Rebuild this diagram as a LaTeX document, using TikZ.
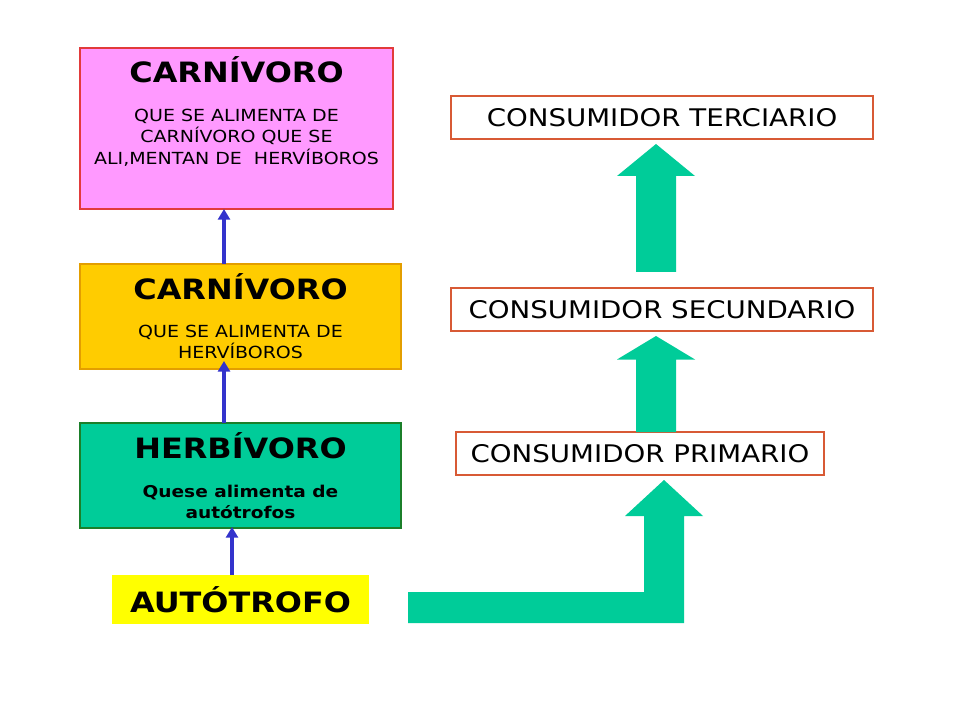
\documentclass[tikz,border=0pt]{standalone}
\usepackage{fontspec}
\setmainfont{DejaVu Sans}[FakeStretch=1.14]
\usetikzlibrary{arrows.meta,calc}
\definecolor{pinkfill}{HTML}{FF99FF}
\definecolor{pinkline}{HTML}{E23B3B}
\definecolor{orangefill}{HTML}{FFCC00}
\definecolor{orangeline}{HTML}{E39E00}
\definecolor{greenfill}{HTML}{00CC99}
\definecolor{greenline}{HTML}{1B7F2A}
\definecolor{yellowfill}{HTML}{FFFF00}
\definecolor{tealarrow}{HTML}{00CC99}
\definecolor{arrowblue}{HTML}{3333CC}
\definecolor{redline}{HTML}{D85A35}
\tikzset{
  box/.style={rectangle, inner sep=0pt, outer sep=0pt, line width=0.8pt},
  title/.style={anchor=base, inner sep=0pt, font=\fontsize{21}{25}\selectfont\bfseries},
  bodytxt/.style={anchor=base, inner sep=0pt, font=\fontsize{12.5}{15}\selectfont},
  bodybold/.style={anchor=base, inner sep=0pt, font=\fontsize{12.2}{15}\selectfont\bfseries},
  consbox/.style={box, draw=redline, fill=white, minimum height=32.25pt, font=\fontsize{18.2}{22}\selectfont},
  bluearrow/.style={draw=arrowblue, line width=3pt, -{Triangle[width=9pt,length=8pt]}},
  bigarrow/.style={fill=tealarrow, draw=none}
}
\begin{document}
\begin{tikzpicture}[x=0.75pt,y=-0.75pt]
\useasboundingbox (0,0) rectangle (960,720);
\fill[white] (0,0) rectangle (960,720);

% left column boxes
\node[box, fill=pinkfill, draw=pinkline, minimum width=234.75pt, minimum height=120.75pt] (pink) at (236.5,128.5) {};
\node[box, fill=orangefill, draw=orangeline, minimum width=240.75pt, minimum height=78.75pt] (orange) at (240.5,316.5) {};
\node[box, fill=greenfill, draw=greenline, minimum width=240.75pt, minimum height=78.75pt] (green) at (240.5,475.5) {};
\node[box, fill=yellowfill, minimum width=192.75pt, minimum height=36.75pt] (yellow) at (240.5,599.5) {};

% texts of left column
\node[title] (pinkT) at (236.5,83) {CARNÍVORO};
\node[bodytxt] (pinkL1) at (236.5,121.5) {QUE SE ALIMENTA DE};
\node[bodytxt] (pinkL2) at (236.5,143) {CARNÍVORO QUE SE};
\node[bodytxt] (pinkL3) at (236.5,164.5) {ALI,MENTAN DE\ \ HERVÍBOROS};

\node[title] (orangeT) at (240.5,300) {CARNÍVORO};
\node[bodytxt] (orangeL1) at (240.5,337.5) {QUE SE ALIMENTA DE};
\node[bodytxt] (orangeL2) at (240.5,358.5) {HERVÍBOROS};

\node[title] (greenT) at (240.5,458) {HERBÍVORO};
\node[bodybold] (greenL1) at (240.5,497) {Quese alimenta de};
\node[bodybold] (greenL2) at (240.5,518) {autótrofos};

\node[title] (yellowT) at (240.5,612.5) {AUTÓTROFO};

% blue arrows
\draw[bluearrow] ($(orange.north)+(-16.5,0)$) -- ($(pink.south)+(-12.5,0)$);
\draw[bluearrow] ($(green.north)+(-16.5,0)$) -- ($(orange.south)+(-16.5,-8)$);
\draw[bluearrow] ($(yellow.north)+(-8.5,0)$) -- ($(green.south)+(-8.5,-1)$);

% right column boxes
\node[consbox, minimum width=316.5pt] (terc) at (662,117.5) {CONSUMIDOR TERCIARIO};
\node[consbox, minimum width=316.5pt] (secu) at (662,309.5) {CONSUMIDOR SECUNDARIO};
\node[consbox, minimum width=276pt] (prim) at (640,453.5) {CONSUMIDOR PRIMARIO};

% big teal arrows
\fill[bigarrow] (636,272) -- (636,176) -- (617,176) -- (656,144) -- (695,176) -- (676,176) -- (676,272) -- cycle;
\fill[bigarrow] (636,432) -- (636,359.5) -- (617,359.5) -- (656,336) -- (695,359.5) -- (676,359.5) -- (676,432) -- cycle;
\fill[bigarrow] (408,592) -- (644,592) -- (644,516) -- (625,516) -- (664,480) -- (703,516) -- (684,516) -- (684,623) -- (408,623) -- cycle;
\end{tikzpicture}
\end{document}
